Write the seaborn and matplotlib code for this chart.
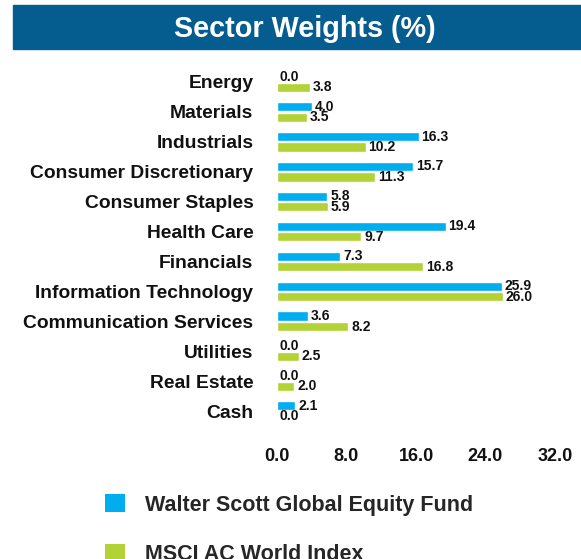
import matplotlib
matplotlib.use("Agg")
import matplotlib.pyplot as plt
from matplotlib.patches import Rectangle, Patch
import seaborn as sns
import pandas as pd

sectors = ["Energy", "Materials", "Industrials", "Consumer Discretionary",
           "Consumer Staples", "Health Care", "Financials",
           "Information Technology", "Communication Services", "Utilities",
           "Real Estate", "Cash"]
fund_name = "Walter Scott Global Equity Fund"
index_name = "MSCI AC World Index"
fund_weights = [0.0, 4.0, 16.3, 15.7, 5.8, 19.4, 7.3, 25.9, 3.6, 0.0, 0.0, 2.1]
index_weights = [3.8, 3.5, 10.2, 11.3, 5.9, 9.7, 16.8, 26.0, 8.2, 2.5, 2.0, 0.0]
x_ticks = [0.0, 8.0, 16.0, 24.0, 32.0]

df = pd.DataFrame({
    "Sector": sectors * 2,
    "Weight": fund_weights + index_weights,
    "Series": [fund_name] * len(sectors) + [index_name] * len(sectors),
})

BLUE = "#00AEEF"
GREEN = "#B2D235"
BANNER = "#045C8F"

sns.set_theme(style="white")
plt.rcParams["font.family"] = ["Liberation Sans", "DejaVu Sans"]

fig = plt.figure(figsize=(5.81, 5.59), dpi=100)
W, H = 581, 559
ax = fig.add_axes([277 / W, 1 - 426 / H, (555 - 277) / W, (426 - 67) / H])

sns.barplot(data=df, y="Sector", x="Weight", hue="Series", orient="h",
            palette=[BLUE, GREEN], width=0.7, gap=0.12, ax=ax,
            legend=False, saturation=1)

for cont in ax.containers:
    ax.bar_label(cont, fmt="%.1f", padding=2, fontsize=10,
                 fontweight="bold", color="#111111")

ax.set_xlim(0, 32)
ax.set_ylim(11.5, -0.5)
ax.set_xticks(x_ticks)
ax.set_xticklabels([f"{t:.1f}" for t in x_ticks], fontsize=13,
                   fontweight="bold", color="#111111")
ax.set_yticks(range(len(sectors)))
ax.set_yticklabels(sectors, fontsize=13.9, fontweight="bold", color="#111111")
ax.tick_params(axis="x", length=0, pad=16)
ax.tick_params(axis="y", length=0, pad=17)
ax.set_xlabel("")
ax.set_ylabel("")
for s in ax.spines.values():
    s.set_visible(False)
ax.grid(False)

# Title banner
fig.patches.append(Rectangle((13 / W, 1 - 49 / H), 1.0, 44 / H,
                             transform=fig.transFigure, color=BANNER,
                             zorder=0))
fig.text(305 / W, 1 - 29 / H, "Sector Weights (%)", color="white",
         fontsize=20.7, fontweight="bold", ha="center", va="center")

handles = [Patch(facecolor=BLUE, edgecolor="none"),
           Patch(facecolor=GREEN, edgecolor="none")]
fig.legend(handles, [fund_name, index_name], loc="upper left",
           bbox_to_anchor=(105 / W, 1 - 494 / H), frameon=False,
           prop={"size": 15.5, "weight": "bold"}, handlelength=0.93,
           handleheight=0.93, handletextpad=0.93, labelspacing=1.3,
           borderpad=0, borderaxespad=0)

fig.savefig("out.png", dpi=100)
